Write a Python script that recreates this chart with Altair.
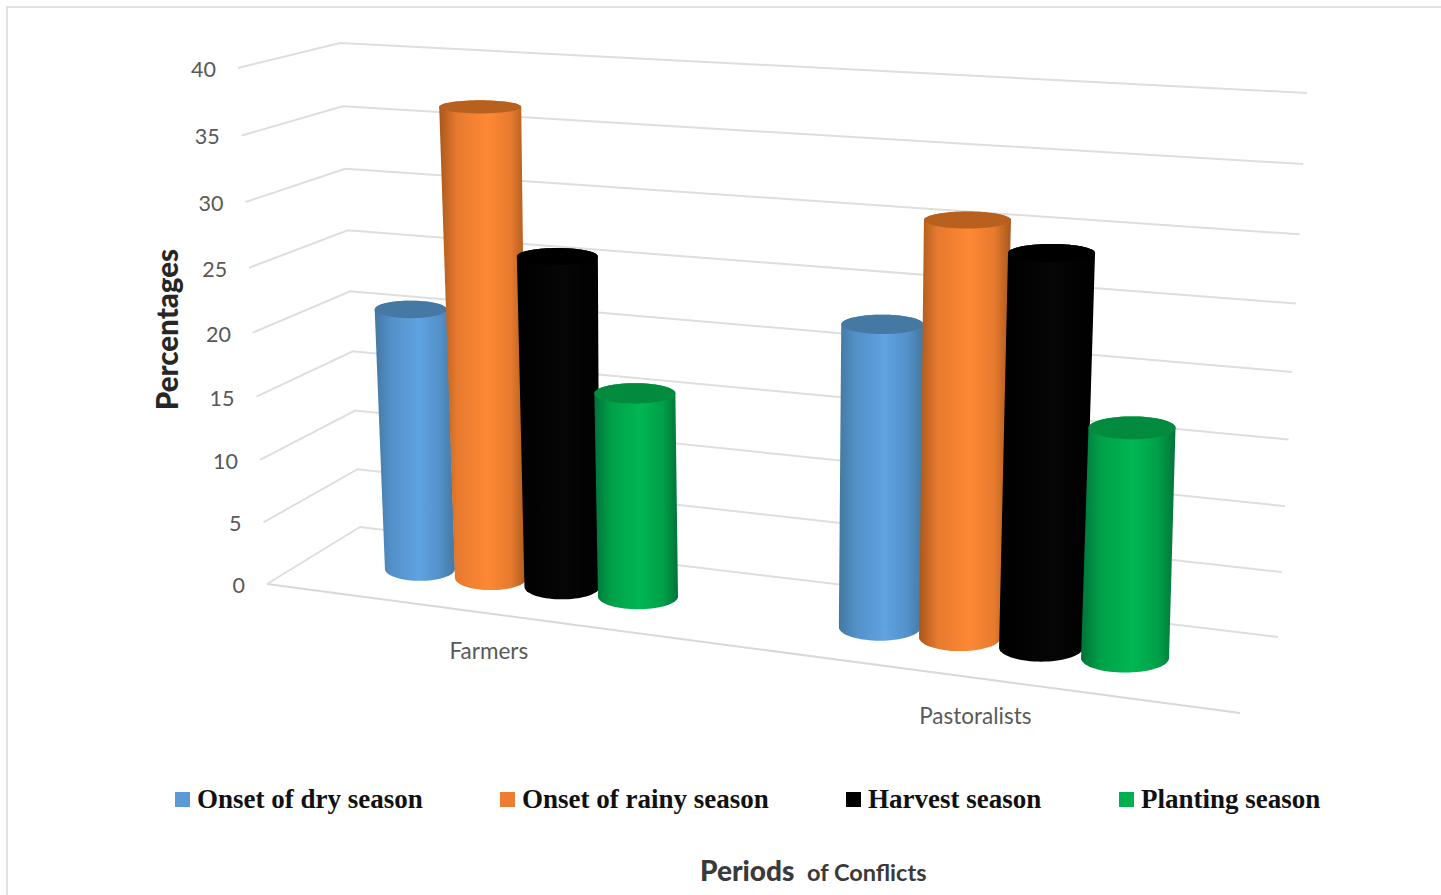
import altair as alt
import numpy as np
import pandas as pd

# Chart content
groups = ["Farmers", "Pastoralists"]
series = ["Onset of dry season", "Onset of rainy season", "Harvest season", "Planting season"]
farmers_values = [21.0, 37.0, 26.1, 16.1]
pastoralist_values = [23.1, 31.2, 29.3, 17.2]
value_ticks = [0, 5, 10, 15, 20, 25, 30, 35, 40]

# Cylinder colours: edge shade, shoulder, highlight, top cap
edge_colors = ["#44789f", "#a9581d", "#000000", "#00733a"]
shoulder_colors = ["#5290c8", "#e67a2e", "#020202", "#00a049"]
light_colors = ["#5fa3e2", "#ff8834", "#060606", "#00b753"]
cap_colors = ["#4678a4", "#b8611f", "#000000", "#028a3f"]
legend_colors = ["#5b9bd5", "#ed7d31", "#000000", "#00b050"]

# Corners of the 3-D box as seen by the camera (front-left, back-left, back-right, front-right)
BOX_FLOOR = np.array([[267, 584], [360, 527], [1278, 637], [1240, 713]], dtype=float)
BOX_CEIL = np.array([[238, 68], [340, 43], [1307, 93], [1258, 137]], dtype=float)

# Placement of each cylinder across the floor, its radius at foot and top, and the sideways
# correction applied to its top
CYLINDER_POS = [[0.1126, 0.1877, 0.2628, 0.3432], [0.599, 0.6838, 0.7695, 0.8583]]
RADIUS_FOOT = [[35, 36, 37.5, 40], [41, 41, 42, 44]]
RADIUS_TOP = [[36, 41, 40.5, 40.5], [41, 43.5, 43.5, 43.5]]
TOP_SHIFT = [[0.5, 3.5, 3, 0], [0, 1, 1.5, 0]]
GROUP_CENTER = [0.228, 0.728]
PERSPECTIVE = 0.05
VMAX = 40.0


def project(a, d, v):
    """Map category position a, depth d (0 front, 1 back) and value v to the screen."""
    s = v / VMAX
    t = s * (1 - PERSPECTIVE) / (1 - PERSPECTIVE * s)
    fl, bl, br, fr = BOX_FLOOR + (BOX_CEIL - BOX_FLOOR) * t
    front = fl + (fr - fl) * a
    back = bl + (br - bl) * a
    return front + (back - front) * d


def cylinder_outlines(a, v, r0, r1, shift):
    t = v / VMAX
    bottom = project(a, 0.5, 0)
    top = project(a, 0.5, v) + np.array([shift, 0.0])
    h0 = 11.5 + 3.5 * a
    h1 = h0 * (1 - 0.5 * t)
    lower = np.linspace(np.pi, 0, 37)
    upper = np.linspace(0, np.pi, 37)
    body = [(top[0] - r1, top[1])]
    body += [(bottom[0] + r0 * np.cos(p), bottom[1] + h0 * np.sin(p)) for p in lower]
    body += [(top[0] + r1 * np.cos(p), top[1] - h1 * np.sin(p)) for p in upper]
    circle = np.linspace(0, 2 * np.pi, 73)
    cap = [(top[0] + r1 * np.cos(p), top[1] + h1 * np.sin(p)) for p in circle]
    return body, cap


def frame(points):
    return pd.DataFrame({"x": [p[0] for p in points], "y": [p[1] for p in points], "i": range(len(points))})


X = alt.X("x:Q", scale=alt.Scale(domain=[0, 1441], nice=False, zero=False), axis=None)
Y = alt.Y("y:Q", scale=alt.Scale(domain=[895, 0], nice=False, zero=False), axis=None)


def polyline(points, color, width):
    return alt.Chart(frame(points)).mark_line(color=color, strokeWidth=width).encode(
        x=X, y=Y, order=alt.Order("i:Q")
    )


def filled(points, fill):
    return alt.Chart(frame(points)).mark_line(
        fill=fill, stroke="transparent", strokeWidth=0
    ).encode(x=X, y=Y, order=alt.Order("i:Q"))


def label(text, x, y, font, size, color, weight="normal", align="center", angle=0):
    df = pd.DataFrame({"x": [x], "y": [y], "t": [text]})
    return alt.Chart(df).mark_text(
        font=font, fontSize=size, color=color, fontWeight=weight, align=align,
        baseline="middle", angle=angle,
    ).encode(x=X, y=Y, text="t:N")


layers = []

# Outer frame of the figure
layers.append(polyline([(7, 895), (7, 7), (1441, 7)], "#d9d9d9", 1.5))

# Gridlines along the side wall and the back wall
for v in value_ticks:
    layers.append(polyline([project(0, 0, v), project(0, 1, v), project(1, 1, v)], "#dedede", 2))
layers.append(polyline([project(0, 0, 0), project(1, 0, 0)], "#d9d9d9", 2))

# Value labels
for v in value_ticks:
    p = project(0, 0, v)
    layers.append(label(str(v), p[0] - 22, p[1] + 3, "Lato", 21.5, "#595959", align="right"))

# Cylinders, drawn left to right so each overlaps the previous one
for g, values in enumerate([farmers_values, pastoralist_values]):
    for s, value in enumerate(values):
        body, cap = cylinder_outlines(
            CYLINDER_POS[g][s], value, RADIUS_FOOT[g][s], RADIUS_TOP[g][s], TOP_SHIFT[g][s]
        )
        gradient = alt.Gradient(
            gradient="linear", x1=0, y1=0, x2=1, y2=0,
            stops=[
                alt.GradientStop(color=edge_colors[s], offset=0),
                alt.GradientStop(color=shoulder_colors[s], offset=0.2),
                alt.GradientStop(color=light_colors[s], offset=0.55),
                alt.GradientStop(color=shoulder_colors[s], offset=0.82),
                alt.GradientStop(color=edge_colors[s], offset=1),
            ],
        )
        layers.append(filled(body, gradient))
        layers.append(filled(cap, cap_colors[s]))

# Category labels sit just in front of the floor edge
for g, name in enumerate(groups):
    p = project(GROUP_CENTER[g], 0, 0)
    layers.append(label(name, p[0], p[1] + 39, "Lato", 22.5, "#595959"))

# Axis titles
layers.append(label("Percentages", 169, 329.5, "Lato", 29.5, "#262626", weight=900, angle=270))
layers.append(label("Periods", 700, 873, "Lato", 28, "#3a3a3a", weight=900, align="left"))
layers.append(label("of Conflicts", 807, 874, "Lato", 23.5, "#3a3a3a", weight="bold", align="left"))

# Legend, fed by an invisible layer holding the series names
legend_df = pd.DataFrame({"series": series, "x": [0] * 4, "y": [0] * 4})
layers.append(
    alt.Chart(legend_df).mark_square(opacity=0, size=1).encode(
        x=X, y=Y,
        color=alt.Color(
            "series:N",
            scale=alt.Scale(domain=series, range=legend_colors),
            legend=alt.Legend(
                title=None, orient="none", legendX=169, legendY=786, columns=4,
                gridAlign="none", columnPadding=71, symbolType="square", symbolSize=225,
                symbolOpacity=1, symbolStrokeWidth=0, labelOffset=1,
                labelFont="Liberation Serif", labelFontSize=27, labelFontWeight="bold",
                labelColor="#111111", labelLimit=400,
            ),
        ),
    )
)

chart = alt.layer(*layers).properties(
    width=1441, height=895, padding=0, autosize=alt.AutoSizeParams(type="none"), background="white"
).configure_view(stroke=None)

chart.save("out.html", embed_options={"renderer": "svg", "actions": False})
